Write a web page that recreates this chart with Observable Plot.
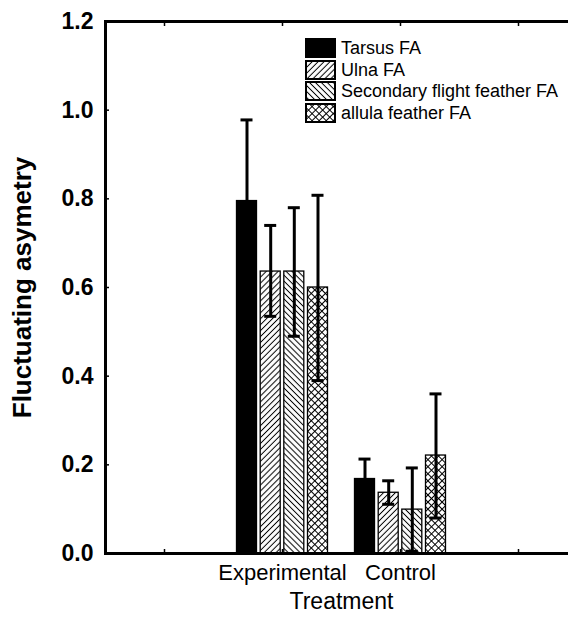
<!DOCTYPE html>
<html><head><meta charset="utf-8">
<script src="https://cdn.jsdelivr.net/npm/d3@7"></script>
<script src="https://cdn.jsdelivr.net/npm/@observablehq/plot@0.6"></script>
<style>
html,body{margin:0;padding:0;background:#fff;overflow:hidden;}
#wrap{position:relative;width:568px;height:618px;font-family:"Liberation Sans",Arial,sans-serif;}
#legend{position:absolute;left:305px;top:37px;}
.row{display:flex;align-items:center;height:21.7px;}
.row svg{display:block;}
.row span{margin-left:5px;font-size:18px;line-height:1;color:#000;}
</style></head><body>
<svg width="0" height="0" style="position:absolute">
<defs>
<pattern id="hatchF" patternUnits="userSpaceOnUse" width="4.2" height="4.2" patternTransform="rotate(45)"><rect width="4.2" height="4.2" fill="#fff"/><line x1="2.1" y1="0" x2="2.1" y2="4.2" stroke="#000" stroke-width="1"/></pattern>
<pattern id="hatchB" patternUnits="userSpaceOnUse" width="4.2" height="4.2" patternTransform="rotate(-45)"><rect width="4.2" height="4.2" fill="#fff"/><line x1="2.1" y1="0" x2="2.1" y2="4.2" stroke="#000" stroke-width="1"/></pattern>
<pattern id="cross" patternUnits="userSpaceOnUse" width="5" height="5" patternTransform="rotate(45)"><rect width="5" height="5" fill="#fff"/><line x1="2.5" y1="0" x2="2.5" y2="5" stroke="#000" stroke-width="1"/><line x1="0" y1="2.5" x2="5" y2="2.5" stroke="#000" stroke-width="1"/></pattern>
</defs></svg>
<div id="wrap"><div id="legend"></div></div>
<script>
const treatments = ["Experimental", "Control"];
const series = ["Tarsus FA", "Ulna FA", "Secondary flight feather FA", "allula feather FA"];
const meanExperimental = [0.795, 0.636, 0.636, 0.600];
const meanControl = [0.168, 0.137, 0.099, 0.221];
const upperExperimental = [0.978, 0.740, 0.780, 0.808];
const upperControl = [0.213, 0.164, 0.193, 0.360];
const lowerExperimental = [0.612, 0.535, 0.490, 0.390];
const lowerControl = [0.123, 0.111, 0.005, 0.080];
const yTicks = [0, 0.2, 0.4, 0.6, 0.8, 1.0, 1.2];
const xSlots = ["", "Experimental", "Control", " "];
const yLabel = "Fluctuating asymetry";
const xLabel = "Treatment";

const fills = ["black", "url(#hatchF)", "url(#hatchB)", "url(#cross)"];
const offsets = [-35.5, -11.8, 11.8, 35.5];

const rows = [];
treatments.forEach((t, ti) => {
  const m = ti === 0 ? meanExperimental : meanControl;
  const u = ti === 0 ? upperExperimental : upperControl;
  const l = ti === 0 ? lowerExperimental : lowerControl;
  series.forEach((s, si) => rows.push({treatment: t, series: s, value: m[si], upper: u[si], lower: l[si]}));
});

const marks = [];
series.forEach((s, i) => {
  const d = rows.filter(r => r.series === s);
  marks.push(Plot.barY(d, {x: "treatment", y: "value", dx: offsets[i], insetLeft: 49, insetRight: 49, fill: fills[i], stroke: "black", strokeWidth: 1.3}));
});
series.forEach((s, i) => {
  const d = rows.filter(r => r.series === s);
  marks.push(Plot.ruleX(d, {x: "treatment", y1: "lower", y2: "upper", dx: offsets[i], stroke: "black", strokeWidth: 3}));
  marks.push(Plot.tickY(d, {x: "treatment", y: "upper", dx: offsets[i], insetLeft: 53, insetRight: 53, stroke: "black", strokeWidth: 3}));
  marks.push(Plot.tickY(d, {x: "treatment", y: "lower", dx: offsets[i], insetLeft: 53, insetRight: 53, stroke: "black", strokeWidth: 3}));
});

const chart = Plot.plot({
  width: 568, height: 618,
  marginLeft: 105, marginRight: -9, marginTop: 21, marginBottom: 65,
  style: {fontFamily: '"Liberation Sans", Arial, sans-serif', background: "white", color: "black"},
  x: {type: "band", domain: xSlots, padding: 0, axis: null},
  y: {domain: [0, 1.2], axis: null},
  marks: [
    ...marks,
    Plot.frame({stroke: "black", strokeWidth: 3}),
    Plot.axisY(yTicks, {anchor: "left", tickSize: -4, tickPadding: 16, fontSize: 23, fontWeight: "bold", tickFormat: d3.format(".1f"), strokeWidth: 1.5, label: null}),
    Plot.axisX(xSlots, {anchor: "bottom", tickSize: -4, tickPadding: 15, fontSize: 22, tickFormat: d => d.trim(), strokeWidth: 1.5, label: null}),
    Plot.axisX(xSlots, {anchor: "top", tickSize: -4, tickFormat: () => "", strokeWidth: 1.5, label: null}),
    Plot.text([yLabel], {text: d => d, frameAnchor: "left", dx: -83, rotate: -90, textAnchor: "middle", fontSize: 26, fontWeight: "bold"}),
    Plot.text([xLabel], {text: d => d, frameAnchor: "bottom", textAnchor: "middle", dy: 55, fontSize: 23})
  ]
});
document.getElementById("wrap").prepend(chart);

const legend = document.getElementById("legend");
series.forEach((s, i) => {
  const row = document.createElement("div");
  row.className = "row";
  row.innerHTML = `<svg width="31" height="20"><rect x="1" y="1" width="29" height="18" fill="${fills[i]}" stroke="black" stroke-width="2"/></svg><span>${s}</span>`;
  legend.appendChild(row);
});
</script>
</body></html>
